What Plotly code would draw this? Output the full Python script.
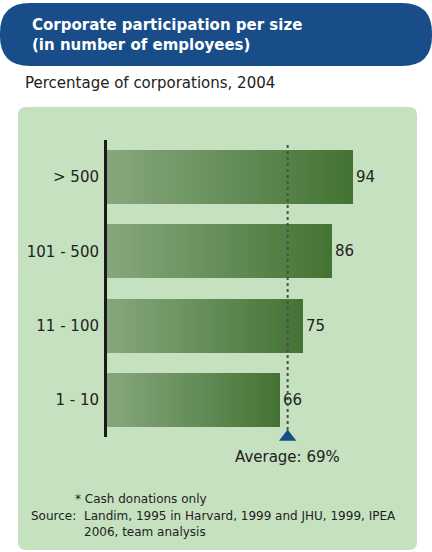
import plotly.graph_objects as go

# ---- data ----
categories = ["1 - 10", "11 - 100", "101 - 500", "> 500"]
values = [66, 75, 86, 94]
average = 69
title_lines = ["Corporate participation per size", "(in number of employees)"]
subtitle = "Percentage of corporations, 2004"
avg_label = "Average: 69%"
note_star = "* Cash donations only"
source_label = "Source:"
source_lines = ["Landim, 1995 in Harvard, 1999 and JHU, 1999, IPEA", "2006, team analysis"]

# ---- layout geometry (pixels) ----
W, H = 432, 552
ML, MR, MT, MB = 107, 37, 140, 115
PW, PH = W - ML - MR, H - MT - MB
XMAX = 110

def px(xp):
    return (xp - ML) / PW

def py(yp):
    return (H - MB - yp) / PH

FONT = "DejaVu Sans"
TXT = "#222222"
BAR_LIGHT = (0x86, 0xa7, 0x7d)
BAR_DARK = (0x44, 0x74, 0x34)
BLUE = "#184d8a"
PANEL = "#c6e1bf"

fig = go.Figure()

# base bars (solid) carrying the value labels
fig.add_trace(go.Bar(
    y=categories, x=values, orientation="h", width=0.73,
    marker=dict(color="rgb(%d,%d,%d)" % BAR_DARK, line=dict(width=0)),
    text=[str(v) for v in values], textposition="outside",
    textfont=dict(family=FONT, size=15, color=TXT),
    cliponaxis=False, showlegend=False, hoverinfo="skip",
))

# gradient overlay: each bar split into slices of its own length
N = 48
for i in range(N):
    t = i / (N - 1)
    c = tuple(round(BAR_LIGHT[k] + (BAR_DARK[k] - BAR_LIGHT[k]) * t) for k in range(3))
    fig.add_trace(go.Bar(
        y=categories,
        x=[v / N for v in values],
        base=[v * i / N for v in values],
        orientation="h", width=0.73,
        marker=dict(color="rgb(%d,%d,%d)" % c, line=dict(width=0)),
        showlegend=False, hoverinfo="skip",
    ))

# average marker triangle (y2 spans the plot area as 0..1)
fig.add_trace(go.Scatter(
    x=[average], y=[py(437)], mode="markers",
    marker=dict(symbol="triangle-up", size=15, color=BLUE, line=dict(width=0)),
    yaxis="y2", cliponaxis=False, showlegend=False, hoverinfo="skip",
))

shapes = []

def rounded_rect(x0, y0, x1, y1, rl, rr):
    X = lambda v: px(v)
    Y = lambda v: py(v)
    pts = [
        ("M", [(x0 + rl, y0)]),
        ("L", [(x1 - rr, y0)]),
        ("Q", [(x1, y0), (x1, y0 + rr)]),
        ("L", [(x1, y1 - rr)]),
        ("Q", [(x1, y1), (x1 - rr, y1)]),
        ("L", [(x0 + rl, y1)]),
        ("Q", [(x0, y1), (x0, y1 - rl)]),
        ("L", [(x0, y0 + rl)]),
        ("Q", [(x0, y0), (x0 + rl, y0)]),
    ]
    s = ""
    for cmd, ps in pts:
        s += cmd + " ".join("%.5f,%.5f" % (X(a), Y(b)) for a, b in ps) + " "
    return s + "Z"

shapes.append(dict(type="path", xref="paper", yref="paper",
                   path=rounded_rect(18, 107, 417, 550, 8, 8),
                   fillcolor=PANEL, line=dict(width=0), layer="below"))
shapes.append(dict(type="path", xref="paper", yref="paper",
                   path=rounded_rect(0, 3, 432, 66, 30, 30),
                   fillcolor=BLUE, line=dict(width=0), layer="below"))
shapes.append(dict(type="line", xref="x", yref="paper",
                   x0=average, x1=average, y0=py(430), y1=py(142),
                   line=dict(color="#4d4d4d", width=2, dash="3px,3px"), layer="above"))

annotations = []
for i, line in enumerate(title_lines):
    annotations.append(dict(text="<b>%s</b>" % line, xref="paper", yref="paper",
                            x=px(30), y=py(25 + 20 * i), xanchor="left", yanchor="middle",
                            showarrow=False, font=dict(family=FONT, size=15, color="white")))
annotations.append(dict(text=subtitle, xref="paper", yref="paper",
                        x=px(23), y=py(83), xanchor="left", yanchor="middle",
                        showarrow=False, font=dict(family=FONT, size=15, color=TXT)))
annotations.append(dict(text=avg_label, xref="x", yref="paper",
                        x=average, y=py(457), xanchor="center", yanchor="middle",
                        showarrow=False, font=dict(family=FONT, size=15, color=TXT)))
annotations.append(dict(text=note_star, xref="paper", yref="paper",
                        x=px(73), y=py(499), xanchor="left", yanchor="middle",
                        showarrow=False, font=dict(family=FONT, size=12, color=TXT)))
annotations.append(dict(text=source_label, xref="paper", yref="paper",
                        x=px(78), y=py(516), xanchor="right", yanchor="middle",
                        showarrow=False, font=dict(family=FONT, size=12, color=TXT)))
for i, line in enumerate(source_lines):
    annotations.append(dict(text=line, xref="paper", yref="paper",
                            x=px(82), y=py(516 + 16 * i), xanchor="left", yanchor="middle",
                            showarrow=False, font=dict(family=FONT, size=12, color=TXT)))

fig.update_layout(
    width=W, height=H,
    margin=dict(l=ML, r=MR, t=MT, b=MB),
    paper_bgcolor="white", plot_bgcolor="rgba(0,0,0,0)",
    barmode="overlay", bargap=0,
    showlegend=False,
    xaxis=dict(range=[0, XMAX], visible=False, fixedrange=True),
    yaxis=dict(type="category", categoryorder="array", categoryarray=categories,
               range=[-0.5, 3.5], showline=True, linewidth=3, linecolor="#1a1a1a",
               showgrid=False, zeroline=False, ticks="", ticklabelstandoff=2,
               tickfont=dict(family=FONT, size=15, color=TXT), fixedrange=True),
    yaxis2=dict(overlaying="y", range=[0, 1], visible=False, fixedrange=True),
    shapes=shapes,
    annotations=annotations,
)

fig.write_html("out.html")
